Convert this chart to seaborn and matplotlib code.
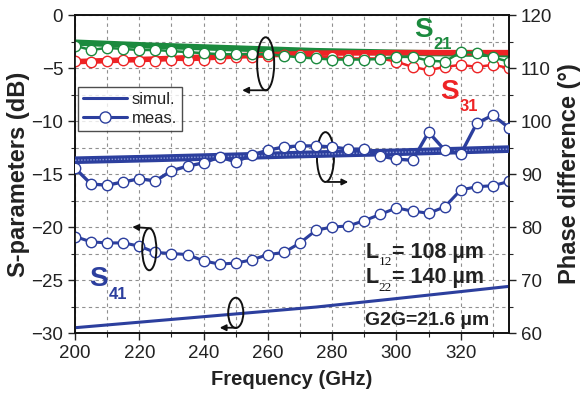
import matplotlib
matplotlib.use("Agg")
import matplotlib.pyplot as plt
from matplotlib.patches import Ellipse
from matplotlib.lines import Line2D
from matplotlib.ticker import MultipleLocator
import pandas as pd
import seaborn as sns

# ---- data -------------------------------------------------------------
freq_meas = list(range(200, 340, 5))
freq_sim = [200, 225, 250, 275, 300, 335]

s21_sim = [-2.6, -2.9, -3.15, -3.4, -3.55, -3.7]
s31_sim = [-4.4, -4.15, -3.85, -3.6, -3.55, -3.55]
s41_sim = [-29.5, -28.85, -28.2, -27.55, -26.75, -25.6]
phase_sim = [92.6, 92.95, 93.35, 93.75, 94.1, 94.7]

s21_meas = [-2.9, -3.3, -3.1, -3.2, -3.3, -3.3, -3.4, -3.5, -3.6, -3.7,
            -3.7, -3.7, -3.7, -3.85, -4.0, -4.1, -4.2, -4.2, -4.2, -4.15,
            -3.95, -3.95, -4.3, -4.4, -3.5, -3.55, -4.0, -4.4]
s31_meas = [-4.3, -4.4, -4.3, -4.2, -4.3, -4.3, -4.2, -4.25, -4.2, -4.1,
            -4.0, -3.95, -3.9, -3.8, -3.8, -3.9, -4.0, -4.1, -4.1, -4.1,
            -4.4, -4.9, -5.2, -4.9, -4.7, -4.9, -4.7, -5.0]
s41_meas = [-20.9, -21.4, -21.5, -21.5, -21.8, -22.4, -22.5, -22.6, -23.2, -23.5,
            -23.4, -23.1, -22.6, -22.4, -21.5, -20.3, -20.0, -19.9, -19.4, -18.8,
            -18.2, -18.5, -18.7, -18.1, -16.5, -16.2, -16.1, -15.7]
phase_meas = [91.1, 88.1, 87.9, 88.5, 89.1, 88.7, 90.6, 91.5, 92.1, 93.2,
              92.3, 93.6, 94.5, 95.1, 95.3, 95.3, 95.1, 94.7, 94.7, 93.4,
              92.8, 92.6, 97.9, 94.5, 93.8, 99.6, 101.1, 98.7]

xticks = [200, 220, 240, 260, 280, 300, 320]
yticks_left = [0, -5, -10, -15, -20, -25, -30]
yticks_right = [120, 110, 100, 90, 80, 70, 60]

GREEN = "#1b8a3e"
RED = "#ee2325"
BLUE = "#2c3f9e"
INK = "#222222"

sim = pd.DataFrame({"f": freq_sim, "s21": s21_sim, "s31": s31_sim,
                    "s41": s41_sim, "ph": phase_sim})
meas = pd.DataFrame({"f": freq_meas, "s21": s21_meas, "s31": s31_meas,
                     "s41": s41_meas, "ph": phase_meas})

# ---- figure -----------------------------------------------------------
sns.set_theme(style="ticks")
plt.rcParams["font.family"] = ["Liberation Sans", "DejaVu Sans"]

fig = plt.figure(figsize=(5.82, 4.08), dpi=100)
ax = fig.add_axes([0.1289, 0.1838, 0.7457, 0.7794])
ax2 = ax.twinx()

mk = dict(marker="o", markersize=7.5, markerfacecolor="white",
          markeredgewidth=1.0)

# S-parameters (left axis): simulated bands first, measured points on top
sns.lineplot(data=sim, x="f", y="s21", ax=ax, color=GREEN, lw=4.5, zorder=3)
sns.lineplot(data=sim, x="f", y="s31", ax=ax, color=RED, lw=4.0, zorder=3)
sns.lineplot(data=meas, x="f", y="s31", ax=ax, color=RED, lw=1.8,
             markeredgecolor=RED, zorder=4, **mk)
sns.lineplot(data=meas, x="f", y="s21", ax=ax, color=GREEN, lw=1.8,
             markeredgecolor=GREEN, zorder=5, **mk)
sns.lineplot(data=sim, x="f", y="s41", ax=ax, color=BLUE, lw=2.2, zorder=4)
sns.lineplot(data=meas, x="f", y="s41", ax=ax, color=BLUE, lw=2.2,
             markeredgecolor=BLUE, zorder=5, **mk)

# phase difference (right axis)
sns.lineplot(data=sim, x="f", y="ph", ax=ax2, color=BLUE, lw=5.5, zorder=3)
sns.lineplot(data=sim, x="f", y="ph", ax=ax2, color="#8c9ad6", lw=1.0,
             ls=(0, (1, 1.2)), zorder=3.5)
sns.lineplot(data=meas, x="f", y="ph", ax=ax2, color=BLUE, lw=2.4,
             markeredgecolor=BLUE, zorder=5, **mk)

# ---- axes -------------------------------------------------------------
ax.set_xlim(200, 335)
ax.set_ylim(-30, 0)
ax2.set_ylim(60, 120)
ax.set_xticks(xticks)
ax.set_yticks(yticks_left)
ax2.set_yticks(yticks_right)
ax.xaxis.set_minor_locator(MultipleLocator(10))
ax.yaxis.set_minor_locator(MultipleLocator(2.5))
ax2.yaxis.set_minor_locator(MultipleLocator(5))

ax.grid(True, which="both", color="#909090", ls=(0, (3, 3)), lw=0.8)
ax.set_axisbelow(True)

for a in (ax, ax2):
    a.tick_params(which="major", length=5, width=1.0, labelsize=13.5,
                  colors=INK, direction="out")
    a.tick_params(which="minor", length=3, width=0.8, direction="out")
    for s in a.spines.values():
        s.set_linewidth(1.2)
        s.set_color("#111111")

ax.set_xlabel("Frequency (GHz)", fontsize=14.5, fontweight="bold",
              labelpad=6, color=INK)
ax.set_ylabel("S-parameters (dB)", fontsize=17, fontweight="bold",
              labelpad=1, color=INK)
ax2.set_ylabel("Phase difference (°)", fontsize=17, fontweight="bold",
               labelpad=4, color=INK)

# legend
handles = [Line2D([], [], color=BLUE, lw=2.2),
           Line2D([], [], color=BLUE, lw=2.2, marker="o", markersize=8,
                  markerfacecolor="white", markeredgecolor=BLUE)]
leg = ax.legend(handles, ["simul.", "meas."], loc="upper left",
                bbox_to_anchor=(0.008, 0.775), fontsize=12, frameon=True,
                fancybox=False, edgecolor=INK, handlelength=2.6,
                handletextpad=0.3, borderpad=0.3, labelspacing=0.25,
                borderaxespad=0.0)
leg.get_frame().set_linewidth(1.0)
for t in leg.get_texts():
    t.set_color(INK)


def sub_label(x, y, main, sub, color, size=20, subsize=12):
    ax.text(x, y, main, color=color, fontsize=size, fontweight="bold",
            ha="left", va="baseline", zorder=10)
    ax.annotate(sub, xy=(x, y), xytext=(size * 0.7, -subsize * 0.75),
                textcoords="offset points", color=color, fontsize=subsize,
                fontweight="bold", ha="left", va="baseline", zorder=10)


sub_label(305.5, -2.05, "S", "21", GREEN)
sub_label(313.5, -7.9, "S", "31", RED)
sub_label(204.3, -25.6, "S", "41", BLUE)


# geometry / dimensions text
def length_label(y, sub, rest):
    ax.text(290.3, y, "L", fontsize=15.5, fontweight="bold", color=INK,
            zorder=10)
    ax.annotate(sub, xy=(290.3, y), xytext=(9.5, -5.5),
                textcoords="offset points", fontsize=9.5, color="#111111",
                family="Liberation Serif", zorder=10)
    ax.text(298.6, y, rest, fontsize=15.5, fontweight="bold", color=INK,
            zorder=10)


length_label(-22.9, "12", "= 108 µm")
length_label(-25.3, "22", "= 140 µm")
ax.text(290.3, -29.25, "G2G=21.6 µm", fontsize=14, fontweight="bold",
        color=INK, zorder=10)


# ellipse markers with arrows pointing to the relevant axis
def ring(a, cx, cy, w, h, tail, head):
    a.add_patch(Ellipse((cx, cy), w, h, fill=False, ec="#111111", lw=1.4,
                        zorder=12))
    a.annotate("", xy=head, xytext=tail,
               arrowprops=dict(arrowstyle="-|>", color="#111111", lw=1.3,
                               mutation_scale=9, shrinkA=0, shrinkB=0),
               zorder=12)


ring(ax, 259.3, -4.6, 5.3, 5.0, (259.8, -7.1), (252.0, -7.1))
ring(ax, 277.9, -13.4, 5.3, 4.7, (278.6, -15.75), (285.0, -15.75))
ring(ax, 223.1, -22.1, 4.4, 3.96, (222.8, -20.1), (217.8, -20.0))
ring(ax, 250.0, -28.1, 4.7, 2.85, (250.3, -29.5), (245.0, -29.5))

fig.savefig("out.png", dpi=100)
